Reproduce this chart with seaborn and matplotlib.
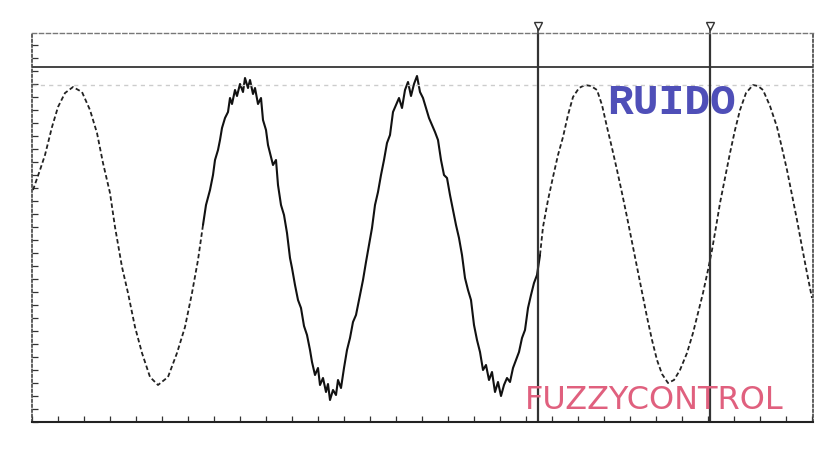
import matplotlib
matplotlib.use("Agg")
import matplotlib.pyplot as plt
import seaborn as sns
import pandas as pd

# ---- data (time in screen units, amplitude in arbitrary units) ----
t_clean1 = [1, 8, 13, 20, 26, 33, 41, 50, 58, 65, 71, 78, 83, 90, 96, 103, 110, 118, 126,
            136, 145, 153, 160, 166, 171]
v_clean1 = [232, 252, 267, 295, 315, 329, 335, 330, 312, 289, 259, 229, 195, 155, 129, 95, 69, 45, 37,
            45, 69, 95, 129, 162, 197]

t_noisy = [171, 174, 178, 181, 183, 186, 188, 190, 193, 196, 198, 200, 203, 205, 208, 211, 213, 216,
           218, 221, 223, 226, 229, 231, 234, 236, 238, 241, 244, 246, 249, 252, 255, 258, 260, 263,
           266, 269, 272, 275, 278, 280, 283, 286, 288, 291, 294, 296, 298, 301, 304, 306, 309, 312,
           315, 318, 321, 324, 328, 331, 334, 337, 340, 343, 346, 349, 352, 355, 358, 361, 364, 367,
           370, 373, 376, 379, 382, 385, 388, 391, 394, 397, 400, 403, 406, 409, 412, 415, 418, 421,
           424, 427, 430, 433, 436, 439, 442, 445, 448, 451, 454, 457, 460, 463, 466, 469, 472, 475,
           478, 481, 484, 487, 490, 493, 496, 499, 502, 505, 508]
v_noisy = [197, 217, 232, 247, 262, 272, 282, 294, 304, 310, 324, 318, 332, 326, 338, 330, 344, 334,
           342, 328, 334, 318, 324, 302, 292, 277, 269, 257, 262, 237, 217, 207, 189, 164, 154, 137,
           122, 114, 96, 87, 72, 60, 47, 54, 37, 44, 30, 38, 22, 32, 27, 42, 34, 54,
           72, 84, 100, 107, 127, 142, 160, 177, 194, 217, 230, 247, 262, 279, 287, 310, 317, 324,
           314, 332, 340, 326, 338, 346, 330, 324, 314, 304, 297, 290, 282, 262, 247, 244, 227, 212,
           197, 184, 167, 144, 132, 122, 97, 82, 70, 52, 57, 42, 50, 30, 40, 26, 37, 44,
           40, 54, 62, 70, 84, 92, 114, 127, 139, 147, 167]

t_clean2 = [508, 511, 516, 521, 526, 531, 536, 541, 547, 553, 559, 565, 570, 575, 580, 585, 590, 595,
            600, 605, 610, 615, 620, 625, 630, 636, 642, 648, 655, 661, 666, 671, 676, 680, 684, 688,
            693, 698, 703, 708, 714, 721, 726, 731, 738, 745, 750, 755, 760, 765, 770, 775, 780]
v_clean2 = [167, 195, 222, 245, 267, 285, 307, 325, 334, 337, 336, 332, 317, 295, 274, 252, 229, 205,
            180, 155, 130, 105, 82, 62, 48, 39, 42, 52, 69, 89, 109, 129, 152, 172, 195, 219,
            244, 269, 292, 312, 329, 337, 336, 332, 316, 295, 274, 252, 227, 202, 175, 149, 124]

cursor_t = [506, 678]
ref_level = 355
ref_dotted = 337
label_noise = "RUIDO"
label_ctrl = "FUZZYCONTROL"

df1 = pd.DataFrame({"t": t_clean1, "v": v_clean1})
dfn = pd.DataFrame({"t": t_noisy, "v": v_noisy})
df2 = pd.DataFrame({"t": t_clean2, "v": v_clean2})

sns.set_style("white")
fig = plt.figure(figsize=(8.22, 4.54), dpi=100)
ax = fig.add_axes([32 / 822, 1 - 422 / 454, (813 - 32) / 822, (422 - 33) / 454])

sns.lineplot(data=df1, x="t", y="v", ax=ax, color="#222222", lw=1.3,
             linestyle=(0, (2.5, 1.5)), estimator=None, sort=False)
sns.lineplot(data=dfn, x="t", y="v", ax=ax, color="#111111", lw=1.5,
             estimator=None, sort=False)
sns.lineplot(data=df2, x="t", y="v", ax=ax, color="#222222", lw=1.3,
             linestyle=(0, (2.5, 1.5)), estimator=None, sort=False)

ax.set_xlim(0, 781)
ax.set_ylim(0, 389)

ax.axhline(ref_level, color="#444444", lw=1.4)
ax.axhline(ref_dotted, color="#cccccc", lw=1.0, linestyle=(0, (3, 3)))
for ct in cursor_t:
    ax.axvline(ct, color="#333333", lw=1.6)
    ax.plot([ct], [396], marker="v", ms=6, mfc="white", mec="#333333", clip_on=False)
    ax.plot([ct, ct], [389, 393], color="#333333", lw=1.2, clip_on=False)

ax.text(640, 339, label_noise, color="#4f4fb8", fontsize=31, fontweight="bold",
        family="Liberation Mono", ha="center", va="top")
ax.text(622, 6, label_ctrl, color="#e0607e", fontsize=23,
        family="DejaVu Sans", ha="center", va="bottom")

ax.set_xlabel("")
ax.set_ylabel("")
ax.set_xticks([i * 26 for i in range(31)])
ax.set_yticks([i * 13 for i in range(30)])
ax.set_xticklabels([])
ax.set_yticklabels([])
ax.tick_params(axis="both", direction="in", length=4, width=0.9, color="#333333",
               bottom=True, left=True)

for side in ["left", "right"]:
    ax.spines[side].set_linestyle((0, (1.5, 1.5)))
    ax.spines[side].set_color("#444444")
    ax.spines[side].set_linewidth(1.2)
ax.spines["top"].set_linestyle((0, (3, 2)))
ax.spines["top"].set_color("#777777")
ax.spines["top"].set_linewidth(1.0)
ax.spines["bottom"].set_color("#222222")
ax.spines["bottom"].set_linewidth(1.5)

fig.savefig("out.png", dpi=100)
